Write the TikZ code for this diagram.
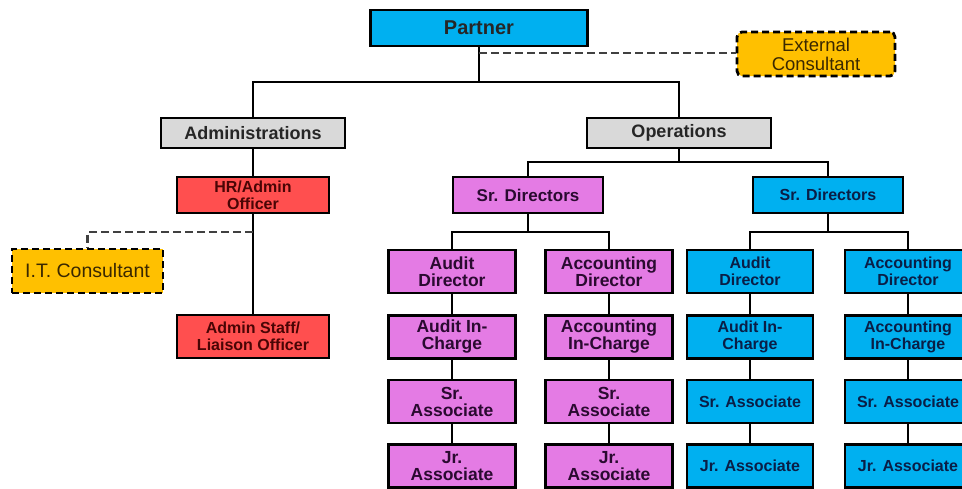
\documentclass[tikz,border=0pt]{standalone}
\usepackage{fontspec}
\setmainfont{Liberation Sans}
\usepackage{xcolor}
\usepackage{tikz}
\definecolor{topblue}{HTML}{00B0F0}
\definecolor{orchid}{HTML}{E47BE4}
\definecolor{alarm}{HTML}{FF4F4F}
\definecolor{lightgray}{HTML}{D9D9D9}
\definecolor{amber}{HTML}{FFC000}
\definecolor{bluetext}{HTML}{0A1E46}
\definecolor{pinktext}{HTML}{2A0A30}
\definecolor{redtext}{HTML}{4A0505}
\definecolor{ambertext}{HTML}{3A2800}

\begin{document}
\begin{tikzpicture}[x=1pt, y=-1pt]
    \tikzstyle{box} = [draw=black, line width=2.8pt, inner sep=0pt, align=center, font=\bfseries\fontsize{16}{17}\selectfont]
    \tikzstyle{headbox} = [box, fill=lightgray, text=black!85, minimum width=184pt, minimum height=30pt, font=\bfseries\fontsize{18}{18}\selectfont]
    \tikzstyle{redbox} = [box, fill=alarm, text=redtext, minimum width=152pt]
    \tikzstyle{pinkbox} = [box, fill=orchid, text=pinktext, minimum width=127pt, minimum height=43pt, font=\bfseries\fontsize{17.5}{17}\selectfont]
    \tikzstyle{bluebox} = [box, fill=topblue, text=bluetext, minimum width=126pt, minimum height=43pt]
    \tikzstyle{consult} = [draw=black, line width=2.8pt, dash pattern=on 7pt off 4pt, fill=amber, text=ambertext, inner sep=0pt, align=center]
    \tikzstyle{link} = [line width=2.8pt]
    \tikzstyle{dlink} = [line width=2.8pt, draw=black!75, dash pattern=on 8pt off 4pt]
    \clip (0,0) rectangle (962,488);

    % top of the chart
    \node[box, fill=topblue, text=black!85, minimum width=217pt, minimum height=36pt, font=\bfseries\fontsize{20}{20}\selectfont] (partner) at (479,28) {Partner};
    \node[consult, rounded corners=5pt, minimum width=158pt, minimum height=44pt, font=\fontsize{18.5}{19}\selectfont] (ext) at (816,54) {External\\Consultant};
    \node[headbox] (admin) at (253,133) {Administrations};
    \node[headbox] (ops) at (679,133) {Operations};

    % administration side
    \node[redbox, minimum height=36pt] (hr) at (253,195) {HR/Admin\\Officer};
    \node[redbox, minimum height=43pt] (staff) at (253,336.5) {Admin Staff/\\Liaison Officer};
    \node[consult, minimum width=151pt, minimum height=44pt, font=\fontsize{19.5}{20}\selectfont] (it) at (87.5,271) {I.T. Consultant};

    % operations side
    \node[box, fill=orchid, text=pinktext, minimum width=150pt, minimum height=36pt, font=\bfseries\fontsize{17}{17}\selectfont] (sdp) at (528,195) {Sr. Directors};
    \node[box, fill=topblue, text=bluetext, minimum width=150pt, minimum height=36pt] (sdb) at (828,195) {Sr. Directors};

    \node[pinkbox] (c1r1) at (452,271.5) {Audit\\Director};
    \node[pinkbox] (c1r2) at (452,337) {Audit In-\\Charge};
    \node[pinkbox] (c1r3) at (452,401.5) {Sr.\\Associate};
    \node[pinkbox] (c1r4) at (452,466) {Jr.\\Associate};

    \node[pinkbox] (c2r1) at (609,271.5) {Accounting\\Director};
    \node[pinkbox] (c2r2) at (609,337) {Accounting\\In-Charge};
    \node[pinkbox] (c2r3) at (609,401.5) {Sr.\\Associate};
    \node[pinkbox] (c2r4) at (609,466) {Jr.\\Associate};

    \node[bluebox] (c3r1) at (750,271.5) {Audit\\Director};
    \node[bluebox] (c3r2) at (750,337) {Audit In-\\Charge};
    \node[bluebox] (c3r3) at (750,401.5) {Sr. Associate};
    \node[bluebox] (c3r4) at (750,466) {Jr. Associate};

    \node[bluebox] (c4r1) at (908,271.5) {Accounting\\Director};
    \node[bluebox] (c4r2) at (908,337) {Accounting\\In-Charge};
    \node[bluebox] (c4r3) at (908,401.5) {Sr. Associate};
    \node[bluebox] (c4r4) at (908,466) {Jr. Associate};

    % junctions
    \coordinate (pj) at (479,82);
    \coordinate (pd) at (479,53);
    \coordinate (hd) at (253,232);
    \coordinate (oj) at (679,162);
    \coordinate (sj) at (528,232);
    \coordinate (bj) at (828,232);

    % connectors
    \draw[link] (partner) -- (pj);
    \draw[link] (admin.north) |- (pj) -| (ops.north);
    \draw[dlink] (pd) -- (ext.west |- pd);
    \draw[link] (admin) -- (hr);
    \draw[link] (hr) -- (staff);
    \draw[dlink] (hd) -| (it.north);
    \draw[link] (ops) -- (oj);
    \draw[link] (sdp.north) |- (oj) -| (sdb.north);
    \draw[link] (sdp) -- (sj);
    \draw[link] (c1r1.north) |- (sj) -| (c2r1.north);
    \draw[link] (sdb) -- (bj);
    \draw[link] (c3r1.north) |- (bj) -| (c4r1.north);
    \foreach \c in {1,...,4} {
        \foreach \r/\s in {1/2,2/3,3/4} {
            \draw[link] (c\c r\r) -- (c\c r\s);
        }
    }
\end{tikzpicture}
\end{document}
